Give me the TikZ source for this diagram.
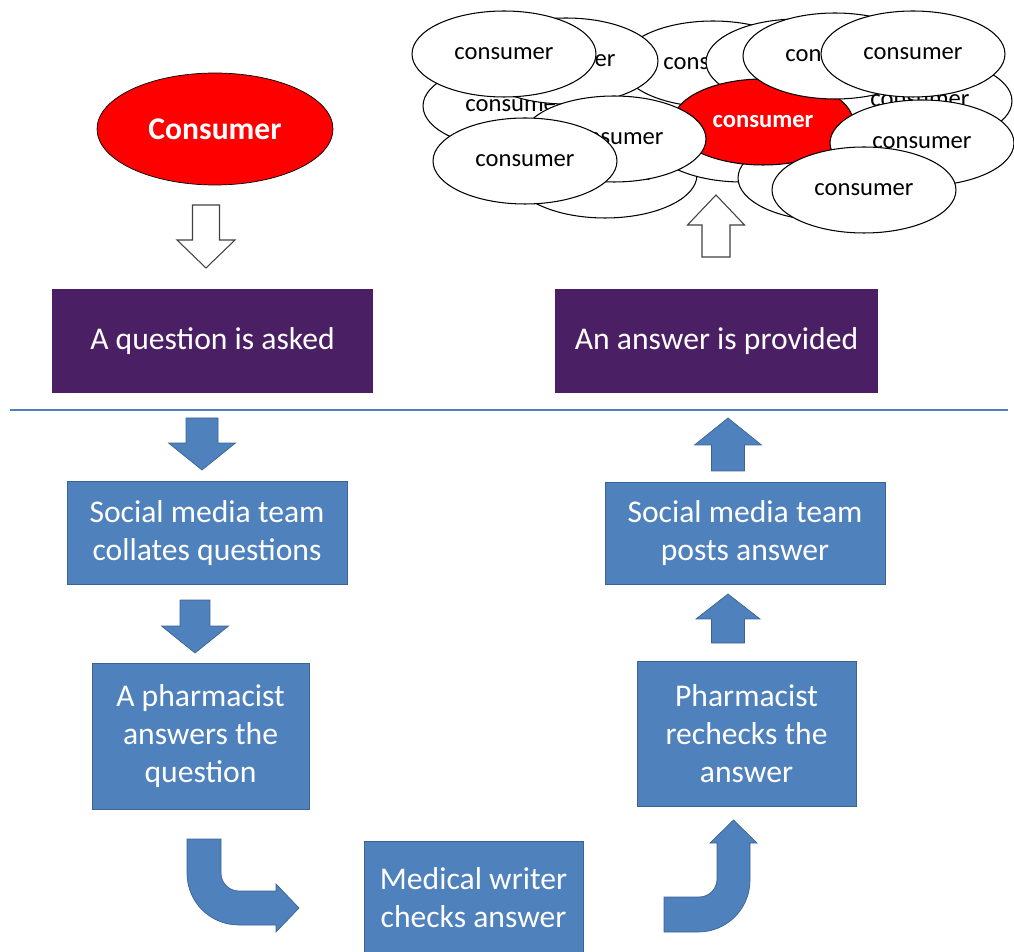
\documentclass[tikz,border=0pt]{standalone}
\usepackage{fontspec}
\setmainfont{Carlito}
\usepackage{tikz}
\usetikzlibrary{shapes.geometric}
\usetikzlibrary{calc}

\definecolor{qpurple}{HTML}{4A1F63}
\definecolor{qblue}{HTML}{4F81BD}
\definecolor{qblueline}{HTML}{3B6494}
\definecolor{qred}{HTML}{FF0000}

% block arrow between two named coordinates (vertical only)
\newcommand{\blockv}[6][blkarrow]{%
  \filldraw[#1] let \p1=(#2), \p2=(#3), \n1={sign(\y2-\y1)}, \n2={\y2-(\n1)*#4} in
    ({\x1-#5},\y1) -- ({\x1-#5},\n2) -- ({\x1-#6},\n2) -- (\x2,\y2)
    -- ({\x1+#6},\n2) -- ({\x1+#5},\n2) -- ({\x1+#5},\y1) -- cycle;}

\begin{document}
\begin{tikzpicture}[x=0.02cm, y=-0.02cm,
    purplebox/.style={rectangle, fill=qpurple, text=white, align=center, inner sep=0pt,
      font=\fontsize{18}{21.6}\selectfont},
    bluebox/.style={rectangle, draw=qblueline, fill=qblue, text=white, align=center, inner sep=0pt,
      font=\fontsize{18}{21.6}\selectfont},
    cons/.style={ellipse, draw=black, fill=white, line width=0.6pt, inner sep=0pt,
      minimum width=3.68cm, minimum height=1.72cm, font=\fontsize{14}{16}\selectfont},
    redcons/.style={cons, fill=qred, text=white, font=\fontsize{14}{16}\selectfont\bfseries},
    hollow/.style={draw=black!75, fill=white, line width=0.6pt},
    blkarrow/.style={draw=qblueline, fill=qblue, line width=0.4pt}]

        \useasboundingbox (0,0) rectangle (1014,952);

        % Asking consumer
        \node[ellipse, draw=black, fill=qred, text=white, minimum width=4.72cm, minimum height=2.24cm,
          font=\fontsize{18}{20}\selectfont\bfseries] (consumer) at (215,129) {Consumer};

        % Crowd of consumers, back to front
        \node[cons] (c1) at (605,175) {consumer};
        \node[cons] (c2) at (742,139) {};
        \node[cons] (c3) at (830,178) {};
        \node[cons] (c4) at (713,64) {consumer};
        \node[cons] (c5) at (798,62) {};
        \node[cons] (c6) at (920,101) {consumer};
        \node[cons] (c7) at (515,106) {consumer};
        \node[cons] (c8) at (566,61) {consumer};
        \node[cons] (c9) at (504,54) {consumer};
        \node[redcons, minimum width=3.6cm] (c10) at (763,122) {consumer};
        \node[cons] (c11) at (614,139) {consumer};
        \node[cons] (c12) at (525,161) {consumer};
        \node[cons] (c13) at (835,56) {consumer};
        \node[cons] (c14) at (913,54) {consumer};
        \node[cons] (c15) at (922,143) {consumer};
        \node[cons] (c16) at (864,190) {consumer};

        % Public side
        \node[purplebox, minimum width=6.42cm, minimum height=2.08cm] (ask) at (212.5,341) {A question is asked};
        \node[purplebox, minimum width=6.46cm, minimum height=2.08cm] (provided) at (716.5,341) {An answer is provided};

        % Divider
        \draw[qblue, line width=0.6pt] (10,410) -- (1008,410);

        % Behind the scenes
        \node[bluebox, minimum width=5.6cm, minimum height=2.06cm] (collate) at (207,533) {Social media team\\collates questions};
        \node[bluebox, minimum width=4.34cm, minimum height=2.92cm] (pharm) at (200.5,736) {A pharmacist\\answers the\\question};
        \node[bluebox, minimum width=4.38cm, minimum height=2.28cm] (writer) at (473.5,898) {Medical writer\\checks answer};
        \node[bluebox, minimum width=4.38cm, minimum height=2.9cm] (recheck) at (746.5,733.5) {Pharmacist\\rechecks the\\answer};
        \node[bluebox, minimum width=5.6cm, minimum height=2.04cm] (posts) at (745,533) {Social media team\\posts answer};

        % Arrow ends
        \coordinate (h1s) at (206,205);
        \coordinate (h1e) at (206,268);
        \coordinate (h2s) at (716,257);
        \coordinate (h2e) at (716,195);
        \coordinate (d1s) at (202,418);
        \coordinate (d1e) at (202,470);
        \coordinate (d2s) at (195,600);
        \coordinate (d2e) at (195,653);
        \coordinate (u1s) at (728,643);
        \coordinate (u1e) at (728,594);
        \coordinate (u2s) at (728,471);
        \coordinate (u2e) at (728,418);

        % Hollow arrows
        \blockv[hollow]{h1s}{h1e}{0.56cm}{0.27cm}{0.58cm}
        \blockv[hollow]{h2s}{h2e}{0.6cm}{0.28cm}{0.57cm}

        % Solid arrows
        \blockv{d1s}{d1e}{0.54cm}{0.32cm}{0.67cm}
        \blockv{d2s}{d2e}{0.54cm}{0.3cm}{0.67cm}
        \blockv{u1s}{u1e}{0.5cm}{0.33cm}{0.64cm}
        \blockv{u2s}{u2e}{0.54cm}{0.33cm}{0.67cm}

        % Bent arrows
        \filldraw[blkarrow] (187,839) -- (221,839) -- (221,873) .. controls (221,883) and (229,891) .. (239,891)
          -- (276,891) -- (276,884) -- (299,908) -- (276,932) -- (276,925) -- (239,925)
          .. controls (210,925) and (187,902) .. (187,873) -- cycle;
        \filldraw[blkarrow] (664,897) -- (699,897) .. controls (709,897) and (717,889) .. (717,879)
          -- (717,843) -- (710,843) -- (733.5,820) -- (757,843) -- (750,843) -- (750,880)
          .. controls (750,909) and (727,932) .. (698,932) -- (664,932) -- cycle;

\end{tikzpicture}
\end{document}
